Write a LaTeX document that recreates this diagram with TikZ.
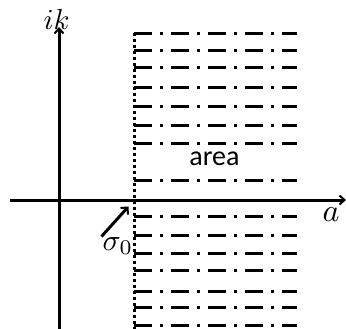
\documentclass[tikz,border=0pt]{standalone}
\usepackage{fontspec}
\newfontfamily\areafont{Carlito}
\usetikzlibrary{arrows.meta}
\tikzset{
  axis/.style={line width=3pt, -{Straight Barb[length=5pt,width=9pt,line width=2pt]}},
  bound/.style={line width=3pt, dash pattern=on 3pt off 3pt},
  hatch/.style={line width=3pt, dash pattern=on 18pt off 8pt on 3pt off 8pt},
  mlabel/.style={inner sep=0pt},
}
\begin{document}
\begin{tikzpicture}[x=1pt,y=-1pt]
\useasboundingbox (0,0) rectangle (346,329);
\coordinate (vb) at (59,329);
\coordinate (vt) at (59,27);
\coordinate (hl) at (10,200);
\coordinate (hr) at (346,200);
\coordinate (bt) at (134,33);
\coordinate (bb) at (134,329);
\foreach \y in {33.3,51,67.7,87.3,106.7,126,143.3,181,216,235.7,253.3,270.7,291,307.3,325}{
  \draw[hatch] (134,\y) -- (297,\y);
}
\draw[bound] (bt) -- (bb);
\draw[axis] (vb) -- (vt);
\draw[axis] (hl) -- (hr);
\node[mlabel, anchor=base west, scale=2.9] (ik) at (43,30) {$ik$};
\node[mlabel, anchor=base west, scale=3.2] (alab) at (322,222) {$a$};
\node[mlabel, anchor=base west, scale=3.0] (sig) at (102,250) {$\sigma_0$};
\node[inner sep=0pt] (area) at (214.5,158.5) {\areafont\fontsize{28}{32}\selectfont area};
\coordinate (st) at (101.5,236.5);
\coordinate (sh) at (128.5,206.5);
\draw[line width=3pt,-{Straight Barb[length=5pt,width=10pt,line width=2pt]}] (st) -- (sh);
\end{tikzpicture}
\end{document}
